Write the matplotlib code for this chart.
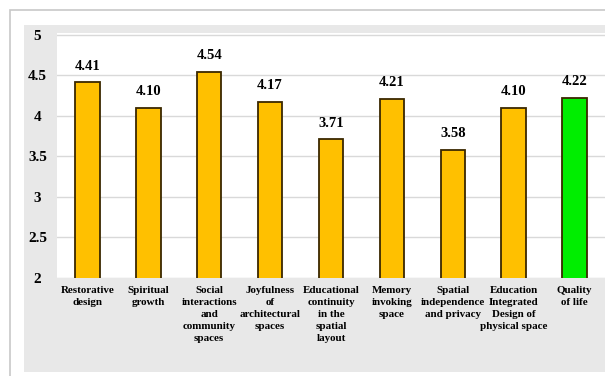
import numpy as np
import matplotlib.pyplot as plt
from matplotlib.patches import Rectangle

categories = ["Restorative\ndesign", "Spiritual\ngrowth", "Social\ninteractions\nand\ncommunity\nspaces",
              "Joyfulness\nof\narchitectural\nspaces", "Educational\ncontinuity\nin the\nspatial\nlayout",
              "Memory\ninvoking\nspace", "Spatial\nindependence\nand privacy",
              "Education\nIntegrated\nDesign of\nphysical space", "Quality\nof life"]
values = [4.41, 4.10, 4.54, 4.17, 3.71, 4.21, 3.58, 4.10, 4.22]
colors = ["#ffc000"] * 8 + ["#00ee00"]

font = dict(family="Liberation Serif", weight="bold")

fig = plt.figure(figsize=(6.05, 3.76), dpi=100)
W, H = 605, 376

# outer frame and gray panel
fig.patches.append(Rectangle((10 / W, -0.1), 1.0, (376 - 10) / H + 0.1, transform=fig.transFigure,
                             facecolor="white", edgecolor="#c8c8c8", linewidth=1.2, zorder=-2))
fig.patches.append(Rectangle((24 / W, 4 / H), 1.0, (376 - 25 - 4) / H, transform=fig.transFigure,
                             facecolor="#e8e8e8", edgecolor="none", zorder=-1))

ax = fig.add_axes([57 / W, (376 - 278) / H, (605 - 57) / W, (278 - 33) / H])
ax.set_zorder(1)
ax.set_facecolor("white")
x = np.arange(len(values))
ax.bar(x, values, width=0.4, bottom=0, color=colors, edgecolor="#3a2800", linewidth=1.3, zorder=3)
ax.set_ylim(2, 5.02)
ax.set_xlim(-0.5, 8.5)
ax.set_yticks([2, 2.5, 3, 3.5, 4, 4.5, 5])
ax.set_yticklabels(["2", "2.5", "3", "3.5", "4", "4.5", "5"], fontsize=11, **font)
ax.yaxis.grid(True, color="#d9d9d9", linewidth=1, zorder=0)
ax.set_axisbelow(True)
ax.set_xticks(x)
ax.set_xticklabels(categories, fontsize=7.9, linespacing=1.4, va="top", **font)
ax.tick_params(axis="x", length=0, pad=6)
ax.tick_params(axis="y", length=0, pad=14)
for lbl in ax.get_yticklabels():
    lbl.set_horizontalalignment("center")
for s in ax.spines.values():
    s.set_visible(False)
for xi, v in zip(x, values):
    ax.annotate("%.2f" % v, (xi, v), xytext=(0, 7), textcoords="offset points",
                ha="center", va="bottom", fontsize=10.5, **font)

fig.savefig("out.png", dpi=100)
